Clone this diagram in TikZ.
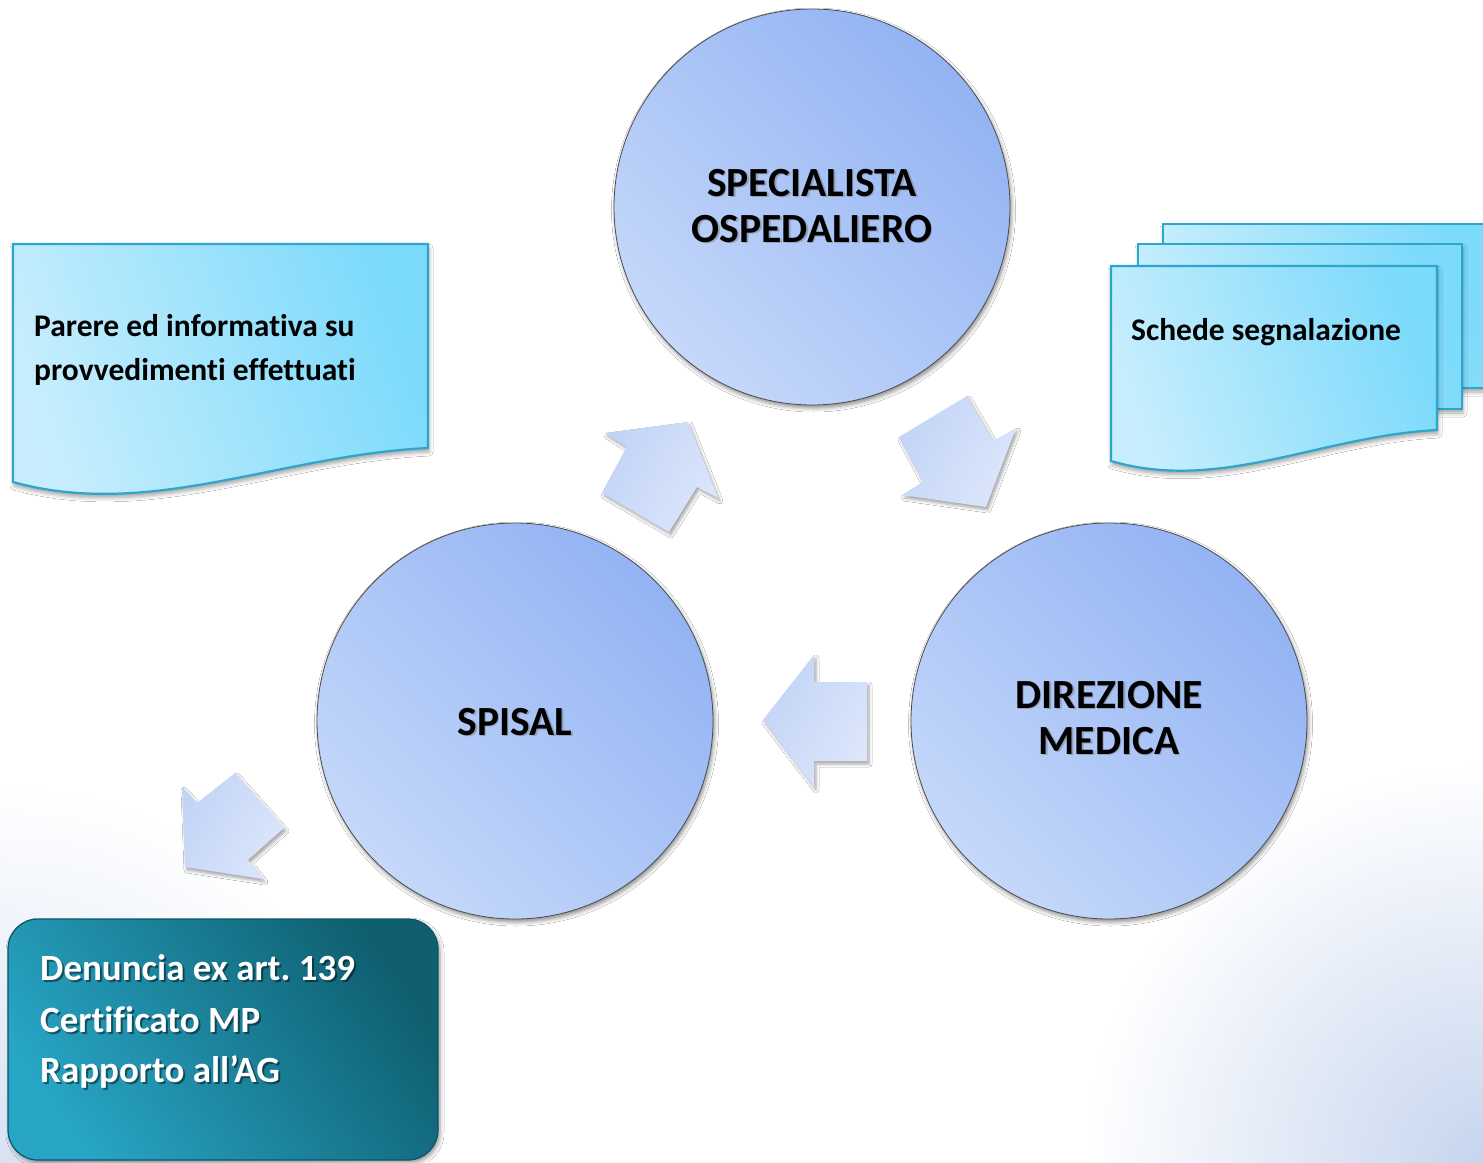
\documentclass[tikz,border=0pt]{standalone}
\usepackage{fontspec}
\setmainfont{Carlito}[Ligatures={NoCommon}]
\usetikzlibrary{shadows.blur}
\frenchspacing

\definecolor{hubDark}{HTML}{93B3F3}
\definecolor{hubLight}{HTML}{C5D8FA}
\definecolor{arrDark}{HTML}{C2D4F6}
\definecolor{arrLight}{HTML}{DCE6FB}
\definecolor{docDark}{HTML}{7CDAFB}
\definecolor{docLight}{HTML}{C8EEFD}
\definecolor{docLine}{HTML}{2EA5CA}
\definecolor{boxDark}{HTML}{0F5F70}
\definecolor{boxLight}{HTML}{28A5C5}
\definecolor{boxLine}{HTML}{0C5566}
\definecolor{bgTint}{HTML}{C6D5EE}

\begin{document}
\begin{tikzpicture}[x=1pt,y=-1pt,
  hub/.style={circle, minimum size=396pt, inner sep=0pt,
    draw=black!70, line width=0.8pt,
    left color=hubLight, right color=hubDark, shading angle=135,
    blur shadow={shadow xshift=1.5pt, shadow yshift=-3pt,
      shadow blur radius=4pt, shadow opacity=45}},
  hubtext/.style={anchor=base, inner sep=0pt,
    font=\fontsize{41.5}{46}\selectfont\bfseries, text=black},
  hubshadow/.style={hubtext, text=black!55, opacity=0.45},
  blockarrow/.style={left color=arrDark, right color=arrLight, shading angle=60,
    blur shadow={shadow xshift=2pt, shadow yshift=-3pt,
      shadow blur radius=3pt, shadow opacity=35}},
  docpage/.style={left color=docLight, right color=docDark, shading angle=110,
    draw=docLine, line width=2.2pt, line join=miter,
    blur shadow={shadow xshift=1pt, shadow yshift=-4pt,
      shadow blur radius=4pt, shadow opacity=35}},
  doctext/.style={anchor=base west, inner sep=0pt,
    font=\fontsize{31.5}{44}\selectfont\bfseries, text=black},
  outbox/.style={rounded corners=30pt, left color=boxLight, right color=boxDark,
    shading angle=125, draw=boxLine, line width=1.2pt,
    blur shadow={shadow xshift=2pt, shadow yshift=-3pt,
      shadow blur radius=4pt, shadow opacity=40}},
  outtext/.style={anchor=base west, inner sep=0pt,
    font=\fontsize{37}{51}\selectfont\bfseries, text=white},
  outshadow/.style={outtext, text=black, opacity=0.45}
]
\useasboundingbox (0,0) rectangle (1483,1162);

% soft tint in the lower corners of the page
\begin{scope}
  \clip (0,0) rectangle (1483,1162);
  \fill[white] (0,0) rectangle (1483,1162);
  \shade[inner color=bgTint, outer color=white] (1483,1162) circle (400);
  \shade[inner color=bgTint!70, outer color=white] (0,1162) circle (380);
\end{scope}

% output box at the bottom left
\path[outbox] (8,919) rectangle (438,1160);
\node[outshadow] at (42,982) {Denuncia ex art. 139};
\node[outshadow] at (42,1034) {Certificato MP};
\node[outshadow] at (42,1084) {Rapporto all’AG};
\node[outtext] (out1) at (40,980) {Denuncia ex art. 139};
\node[outtext] (out2) at (40,1032) {Certificato MP};
\node[outtext] (out3) at (40,1082) {Rapporto all’AG};

% the three actors
\node[hub] (spec) at (812,207) {};
\node[hub] (spisal) at (515,721) {};
\node[hub] (dir) at (1109,721) {};

\node[hubshadow] at (813.5,197.5) {SPECIALISTA};
\node[hubshadow] at (813.5,243.5) {OSPEDALIERO};
\node[hubtext] (spec1) at (812,196) {SPECIALISTA};
\node[hubtext] (spec2) at (812,242) {OSPEDALIERO};

\node[hubshadow] at (516.5,736.5) {SPISAL};
\node[hubtext] (spisal1) at (515,735) {SPISAL};

\node[hubshadow] at (1110.5,709.5) {DIREZIONE};
\node[hubshadow] at (1110.5,755.5) {MEDICA};
\node[hubtext] (dir1) at (1109,708) {DIREZIONE};
\node[hubtext] (dir2) at (1109,754) {MEDICA};

% block arrows of the cycle
\path[blockarrow] (627,447) -- (605,433) -- (688,422) -- (718,498)
  -- (697,487) -- (669,532) -- (602,493) -- cycle;
\path[blockarrow] (899,437) -- (967,396) -- (993,441) -- (1016,428)
  -- (986,507) -- (902,495) -- (923,482) -- cycle;
\path[blockarrow] (763,720) -- (814,655) -- (814,682) -- (867,682)
  -- (867,761) -- (814,761) -- (814,787) -- cycle;
\path[blockarrow] (182,787) -- (197,803) -- (235,773) -- (284,828)
  -- (248,860) -- (263,879) -- (185,867) -- cycle;

% single document on the left
\path[docpage] (13,244) -- (428,244) -- (428,448)
  .. controls (280,455) and (150,520) .. (13,482) -- cycle;
\node[doctext] (doc1) at (34,336) {Parere ed informativa su};
\node[doctext] (doc2) at (34,380) {provvedimenti effettuati};

% stack of documents on the right
\path[docpage] (1163,224) rectangle (1490,388);
\path[docpage] (1138,244) rectangle (1462,409);
\path[docpage] (1111,266) -- (1437,266) -- (1437,430)
  .. controls (1320,436) and (1220,493) .. (1111,461) -- cycle;
\node[doctext] (sched) at (1131,340) {Schede segnalazione};
\end{tikzpicture}
\end{document}
